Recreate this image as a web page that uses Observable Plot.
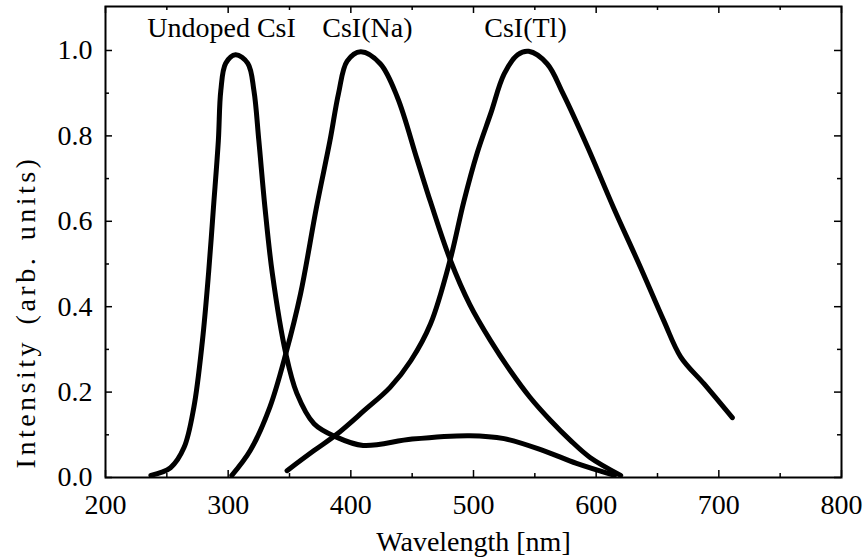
<!DOCTYPE html>
<html>
<head>
<meta charset="utf-8">
<script src="https://cdn.jsdelivr.net/npm/d3@7"></script>
<script src="https://cdn.jsdelivr.net/npm/@observablehq/plot@0.6"></script>
<style>
  html, body { margin: 0; padding: 0; background: #fff; }
  svg { overflow: visible; }
</style>
</head>
<body>
<div id="chart"></div>
<script>
// Undoped CsI emission (wavelength nm, intensity)
const undopedWl = [237, 253, 264, 272, 279, 284, 288, 292, 294, 298, 306, 316, 321, 325, 330, 336, 347, 356, 370, 388, 410, 450, 497, 525, 557, 584, 615];
const undopedI  = [0.005, 0.023, 0.07, 0.164, 0.32, 0.478, 0.632, 0.789, 0.906, 0.97, 0.99, 0.97, 0.906, 0.789, 0.632, 0.478, 0.29, 0.197, 0.126, 0.095, 0.075, 0.09, 0.098, 0.091, 0.063, 0.033, 0.005];

// CsI(Na)
const naWl = [303, 318, 334, 347, 359, 372, 383, 390, 397, 408, 424, 438, 454, 465, 481, 497, 514, 530, 546, 563, 579, 595, 620];
const naI  = [0.005, 0.063, 0.165, 0.29, 0.43, 0.633, 0.789, 0.9, 0.975, 0.997, 0.969, 0.89, 0.745, 0.645, 0.51, 0.405, 0.32, 0.25, 0.188, 0.133, 0.087, 0.047, 0.005];

// CsI(Tl)
const tlWl = [348, 370, 388, 411, 432, 449, 465, 481, 492, 503, 514, 525, 536, 545, 560, 573, 593, 614, 636, 655, 669, 688, 711];
const tlI  = [0.016, 0.063, 0.1, 0.157, 0.211, 0.274, 0.36, 0.51, 0.645, 0.76, 0.852, 0.945, 0.99, 0.998, 0.969, 0.899, 0.774, 0.633, 0.493, 0.368, 0.282, 0.219, 0.14];

const seriesNames = ["Undoped CsI", "CsI(Na)", "CsI(Tl)"];
const labelWl = [294.6, 413.5, 542.4];

const xMajor = [200, 300, 400, 500, 600, 700, 800];
const xMinor = [250, 350, 450, 550, 650, 750];
const yMajor = [0.0, 0.2, 0.4, 0.6, 0.8, 1.0];
const yMinor = [0.1, 0.3, 0.5, 0.7, 0.9];
const xDomain = [200, 800];
const yDomain = [0, 1.103];

const xTitle = "Wavelength [nm]";
const yTitle = "Intensity (arb. units)";

const rows = [];
[[undopedWl, undopedI], [naWl, naI], [tlWl, tlI]].forEach(([wl, it], k) => {
  wl.forEach((w, i) => rows.push({series: seriesNames[k], wl: w, v: it[i]}));
});
const labels = seriesNames.map((s, i) => ({name: s, wl: labelWl[i]}));

const font = "'Liberation Serif', 'Times New Roman', serif";
const tk = {stroke: "#000", strokeWidth: 1.5};

const chart = Plot.plot({
  width: 868,
  height: 559,
  marginLeft: 105,
  marginRight: 27,
  marginTop: 6,
  marginBottom: 82,
  style: {fontFamily: font, fontSize: "28px", color: "#000", background: "#fff"},
  x: {domain: xDomain},
  y: {domain: yDomain},
  marks: [
    // inward major / minor ticks on all four sides
    Plot.ruleX(xMajor, {x: d => d, y1: yDomain[0], y2: yDomain[0], insetTop: -7, ...tk}),
    Plot.ruleX(xMinor, {x: d => d, y1: yDomain[0], y2: yDomain[0], insetTop: -4, ...tk}),
    Plot.ruleX(xMajor, {x: d => d, y1: yDomain[1], y2: yDomain[1], insetBottom: -7, ...tk}),
    Plot.ruleX(xMinor, {x: d => d, y1: yDomain[1], y2: yDomain[1], insetBottom: -4, ...tk}),
    Plot.ruleY(yMajor, {y: d => d, x1: xDomain[0], x2: xDomain[0], insetRight: -7, ...tk}),
    Plot.ruleY(yMinor, {y: d => d, x1: xDomain[0], x2: xDomain[0], insetRight: -4, ...tk}),
    Plot.ruleY(yMajor, {y: d => d, x1: xDomain[1], x2: xDomain[1], insetLeft: -7, ...tk}),
    Plot.ruleY(yMinor, {y: d => d, x1: xDomain[1], x2: xDomain[1], insetLeft: -4, ...tk}),
    Plot.frame({stroke: "#000", strokeWidth: 2}),
    // tick labels
    Plot.axisX(xMajor, {anchor: "bottom", tickSize: 0, tickPadding: 17, label: null, fontSize: 28, tickFormat: d3.format("d")}),
    Plot.axisY(yMajor, {anchor: "left", tickSize: 0, tickPadding: 13, label: null, fontSize: 28, tickFormat: d3.format(".1f")}),
    // axis titles
    Plot.text([xTitle], {frameAnchor: "bottom", dy: 73, text: d => d, fontSize: 28, fill: "#000"}),
    Plot.text([yTitle], {frameAnchor: "left", textAnchor: "middle", lineAnchor: "middle", rotate: -90, dx: -79, dy: 70, text: d => d, fontSize: 28, fill: "#000"}),
    // curves
    Plot.line(rows, {x: "wl", y: "v", z: "series", stroke: "#000", strokeWidth: 5, curve: "catmull-rom", strokeLinecap: "round", strokeLinejoin: "round"}),
    // curve labels
    Plot.text(labels, {x: "wl", frameAnchor: "top", dy: 11, text: "name", fontSize: 28, fill: "#000"})
  ]
});
d3.select(chart).selectAll("text")
  .filter(function () { return this.textContent === yTitle; })
  .style("letter-spacing", "3.5px")
  .style("word-spacing", "4px");
document.getElementById("chart").appendChild(chart);
</script>
</body>
</html>
